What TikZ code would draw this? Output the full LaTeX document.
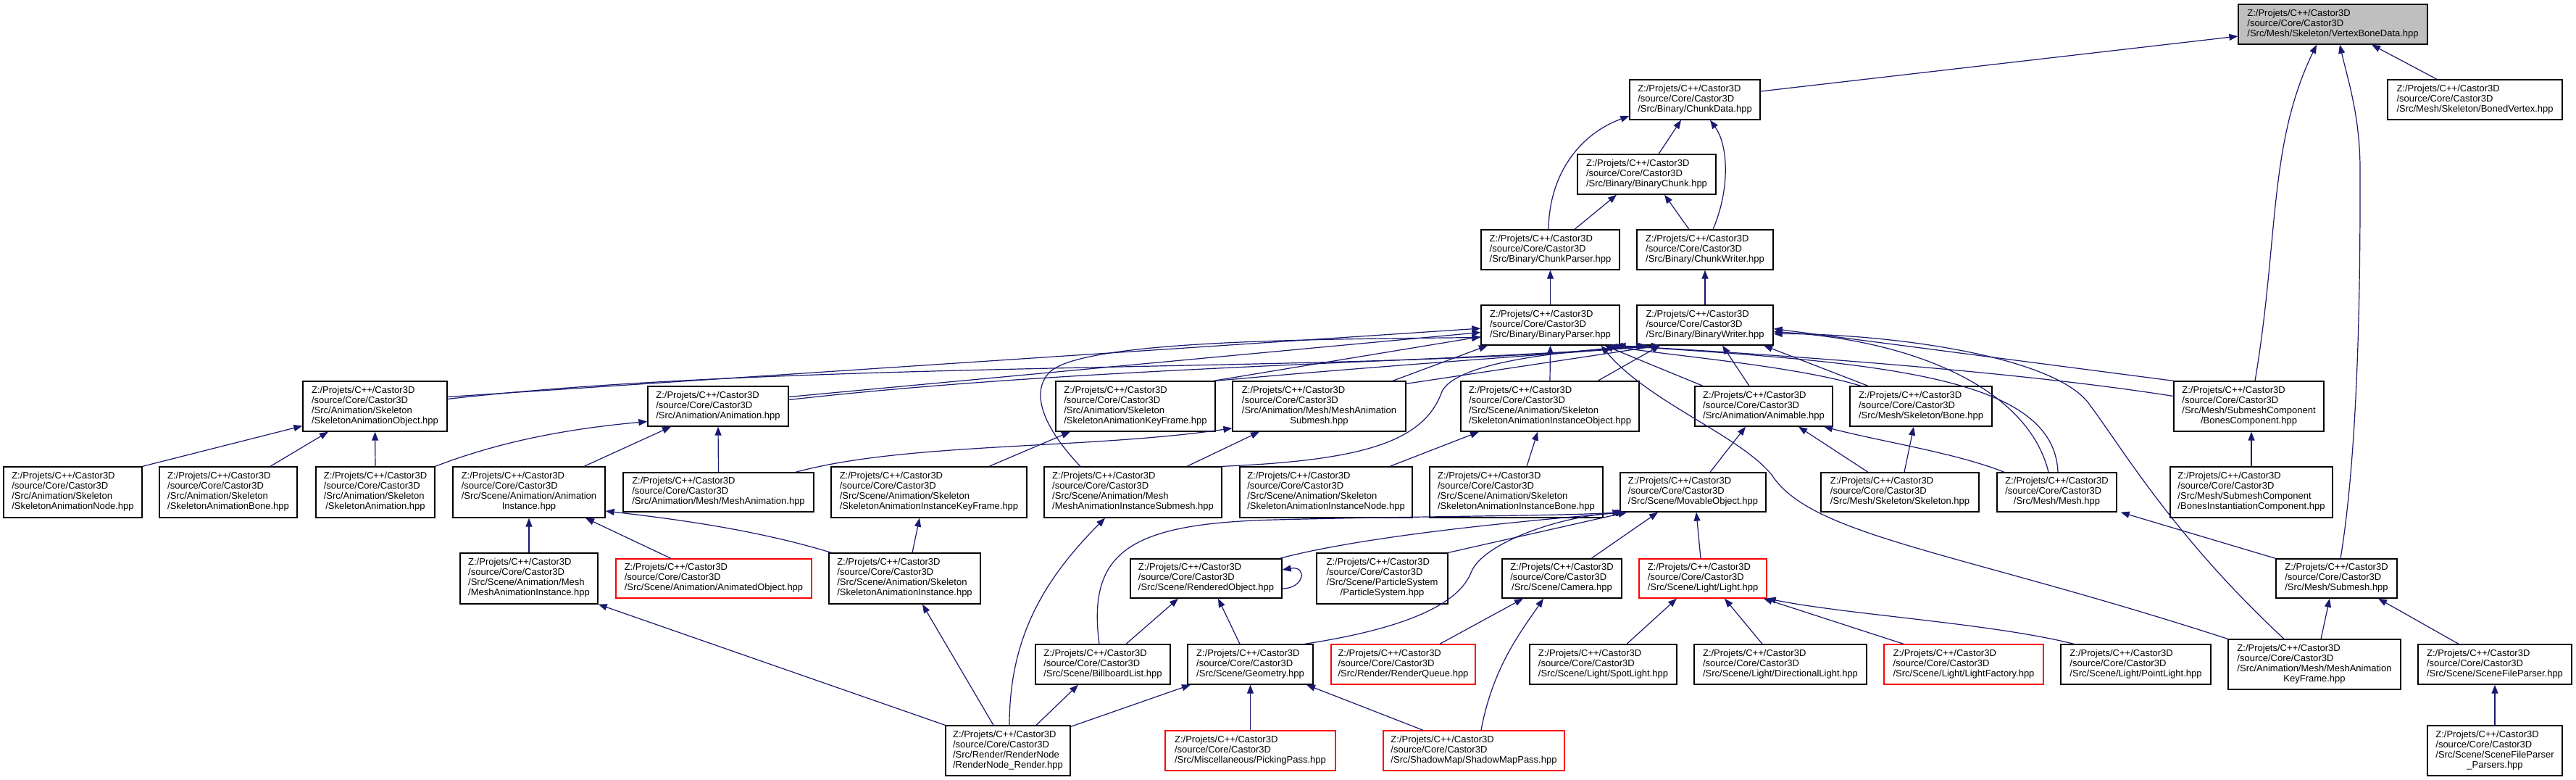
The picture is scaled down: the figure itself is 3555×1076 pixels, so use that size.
\documentclass[tikz,border=0pt]{standalone}
\usepackage{fontspec}
\setmainfont{Liberation Sans}
\usetikzlibrary{arrows.meta}
\definecolor{edgeblue}{HTML}{191970}
\definecolor{nodered}{HTML}{FF0000}
\definecolor{focusgray}{HTML}{BFBFBF}
\newcommand{\hdr}{Z:/Projets/C++/Castor3D\\/source/Core/Castor3D}
\newcommand{\lA}[1]{\begin{tabular}{@{}l@{}}\hdr\\\multicolumn{1}{@{}c@{}}{#1}\end{tabular}}
\newcommand{\lB}[2]{\begin{tabular}{@{}l@{}}\hdr\\#1\\\multicolumn{1}{@{}c@{}}{#2}\end{tabular}}
\newcommand{\gnode}[7][]{\node[gbox,#1,minimum width={#5-#3},minimum height={#6-#4}] (#2) at ({(#3+#5)/2},{(#4+#6)/2}) {#7};}
\tikzset{
  gbox/.style={draw=black, line width=1.3pt, fill=white, inner sep=0pt, text=black,
    font=\fontsize{13}{14}\selectfont},
  redbox/.style={draw=nodered},
  focusbox/.style={fill=focusgray},
  conn/.style={draw=edgeblue, line width=1.2pt, -{Triangle[length=12pt,width=9pt]}}
}
\begin{document}
\begin{tikzpicture}[x=1pt,y=-1pt]
\fill[white] (0,0) rectangle (3555,1076);
\useasboundingbox (0,0) rectangle (3555,1076);
% ---------- nodes ----------
\gnode[focusbox]{VBD}{3089}{6}{3350}{61}{\lA{/Src/Mesh/Skeleton/VertexBoneData.hpp}}
\gnode{BV}{3295}{110}{3536}{165}{\lA{/Src/Mesh/Skeleton/BonedVertex.hpp}}
\gnode{CD}{2249}{110}{2429}{165}{\lA{/Src/Binary/ChunkData.hpp}}
\gnode{BC}{2177}{213}{2368}{268}{\lA{/Src/Binary/BinaryChunk.hpp}}
\gnode{CP}{2044}{317}{2235}{372}{\lA{/Src/Binary/ChunkParser.hpp}}
\gnode{CW}{2259}{317}{2447}{372}{\lA{/Src/Binary/ChunkWriter.hpp}}
\gnode{BP}{2044}{421}{2235}{476}{\lA{/Src/Binary/BinaryParser.hpp}}
\gnode{BW}{2259}{421}{2447}{476}{\lA{/Src/Binary/BinaryWriter.hpp}}
\gnode{SAO}{418}{526}{617}{595}{\lB{/Src/Animation/Skeleton}{/SkeletonAnimationObject.hpp}}
\gnode{ANM}{894}{533}{1088}{588}{\lA{/Src/Animation/Animation.hpp}}
\gnode{SAKF}{1457}{526}{1677}{595}{\lB{/Src/Animation/Skeleton}{/SkeletonAnimationKeyFrame.hpp}}
\gnode{MAS}{1701}{526}{1940}{595}{\lB{/Src/Animation/Mesh/MeshAnimation}{Submesh.hpp}}
\gnode{SAIO}{2016}{526}{2262}{595}{\lB{/Src/Scene/Animation/Skeleton}{/SkeletonAnimationInstanceObject.hpp}}
\gnode{ABL}{2339}{533}{2529}{588}{\lA{/Src/Animation/Animable.hpp}}
\gnode{BONE}{2553}{533}{2749}{588}{\lA{/Src/Mesh/Skeleton/Bone.hpp}}
\gnode{BCMP}{3000}{526}{3207}{595}{\lB{/Src/Mesh/SubmeshComponent}{/BonesComponent.hpp}}
\gnode{SAN}{5}{644}{196}{714}{\lB{/Src/Animation/Skeleton}{/SkeletonAnimationNode.hpp}}
\gnode{SAB}{220}{644}{410}{714}{\lB{/Src/Animation/Skeleton}{/SkeletonAnimationBone.hpp}}
\gnode{SA}{436}{644}{600}{714}{\lB{/Src/Animation/Skeleton}{/SkeletonAnimation.hpp}}
\gnode{AI}{625}{644}{835}{714}{\lB{/Src/Scene/Animation/Animation}{Instance.hpp}}
\gnode{MA}{860}{652}{1123}{706}{\lA{/Src/Animation/Mesh/MeshAnimation.hpp}}
\gnode{SAIKF}{1147}{644}{1417}{714}{\lB{/Src/Scene/Animation/Skeleton}{/SkeletonAnimationInstanceKeyFrame.hpp}}
\gnode{MAIS}{1441}{644}{1686}{714}{\lB{/Src/Scene/Animation/Mesh}{/MeshAnimationInstanceSubmesh.hpp}}
\gnode{SAIN}{1711}{644}{1949}{714}{\lB{/Src/Scene/Animation/Skeleton}{/SkeletonAnimationInstanceNode.hpp}}
\gnode{SAIB}{1973}{644}{2212}{714}{\lB{/Src/Scene/Animation/Skeleton}{/SkeletonAnimationInstanceBone.hpp}}
\gnode{MO}{2236}{652}{2437}{706}{\lA{/Src/Scene/MovableObject.hpp}}
\gnode{SKL}{2513}{652}{2731}{706}{\lA{/Src/Mesh/Skeleton/Skeleton.hpp}}
\gnode{MESH}{2756}{652}{2921}{706}{\lA{/Src/Mesh/Mesh.hpp}}
\gnode{BIC}{2995}{644}{3219}{714}{\lB{/Src/Mesh/SubmeshComponent}{/BonesInstantiationComponent.hpp}}
\gnode{MAI}{635}{763}{825}{833}{\lB{/Src/Scene/Animation/Mesh}{/MeshAnimationInstance.hpp}}
\gnode[redbox]{AO}{850}{771}{1120}{825}{\lA{/Src/Scene/Animation/AnimatedObject.hpp}}
\gnode{SAI}{1144}{763}{1353}{833}{\lB{/Src/Scene/Animation/Skeleton}{/SkeletonAnimationInstance.hpp}}
\gnode{RO}{1560}{771}{1769}{825}{\lA{/Src/Scene/RenderedObject.hpp}}
\gnode{PS}{1817}{763}{1998}{833}{\lB{/Src/Scene/ParticleSystem}{/ParticleSystem.hpp}}
\gnode{CAM}{2073}{771}{2238}{825}{\lA{/Src/Scene/Camera.hpp}}
\gnode[redbox]{LIGHT}{2262}{771}{2438}{825}{\lA{/Src/Scene/Light/Light.hpp}}
\gnode{SUB}{3141}{771}{3308}{825}{\lA{/Src/Mesh/Submesh.hpp}}
\gnode{BL}{1429}{889}{1615}{944}{\lA{/Src/Scene/BillboardList.hpp}}
\gnode{GEO}{1639}{889}{1812}{944}{\lA{/Src/Scene/Geometry.hpp}}
\gnode[redbox]{RQ}{1837}{889}{2036}{944}{\lA{/Src/Render/RenderQueue.hpp}}
\gnode{SPOT}{2111}{889}{2314}{944}{\lA{/Src/Scene/Light/SpotLight.hpp}}
\gnode{DIR}{2338}{889}{2576}{944}{\lA{/Src/Scene/Light/DirectionalLight.hpp}}
\gnode[redbox]{LF}{2600}{889}{2820}{944}{\lA{/Src/Scene/Light/LightFactory.hpp}}
\gnode{PL}{2844}{889}{3051}{944}{\lA{/Src/Scene/Light/PointLight.hpp}}
\gnode{MAKF}{3075}{882}{3313}{951}{\lB{/Src/Animation/Mesh/MeshAnimation}{KeyFrame.hpp}}
\gnode{SFP}{3337}{889}{3549}{944}{\lA{/Src/Scene/SceneFileParser.hpp}}
\gnode{RNR}{1305}{1001}{1477}{1070}{\lB{/Src/Render/RenderNode}{/RenderNode\_Render.hpp}}
\gnode[redbox]{PP}{1608}{1008}{1843}{1063}{\lA{/Src/Miscellaneous/PickingPass.hpp}}
\gnode[redbox]{SMP}{1909}{1008}{2159}{1063}{\lA{/Src/ShadowMap/ShadowMapPass.hpp}}
\gnode{SFPP}{3350}{1001}{3536}{1070}{\lB{/Src/Scene/SceneFileParser}{\_Parsers.hpp}}
% ---------- top part ----------
\draw[conn] ([yshift=11.5pt]CD.east) -- ([yshift=-16.5pt]VBD.west);
\draw[conn] ([xshift=-52.5pt]BV.north) -- ([xshift=53.5pt]VBD.south);
\draw[conn] ([xshift=8.5pt]BCMP.north) .. controls (3145,330) and (3130,200) .. ([xshift=-22.5pt]VBD.south);
\draw[conn] ([xshift=5.5pt]SUB.north) .. controls (3258,600) and (3257,330) .. (3257,234) .. controls (3257,160) and (3240,110) .. ([xshift=9.5pt]VBD.south);
\draw[conn] ([xshift=-2.5pt]CP.north) .. controls (2138,240) and (2180,185) .. ([yshift=-22.5pt]CD.west);
\draw[conn] ([xshift=16.5pt]BC.north) -- ([xshift=-19pt]CD.south);
\draw[conn] ([xshift=11pt]CW.north) .. controls (2388,260) and (2385,200) .. ([xshift=21pt]CD.south);
\draw[conn] ([xshift=33.5pt]CP.north) -- ([xshift=-41.5pt]BC.south);
\draw[conn] ([xshift=-22pt]CW.north) -- ([xshift=24.5pt]BC.south);
\draw[conn] (BP.north) -- (CP.south);
\draw[conn] (BW.north) -- (CW.south);
% ---------- into BinaryParser / BinaryWriter ----------
\draw[conn] ([yshift=13pt]SAO.east) -- ([yshift=-4.5pt]BP.west);
\draw[conn] ([yshift=10pt]SAO.east) .. controls (1100,495) and (1900,515) .. ([xshift=-83pt]BW.south);
\draw[conn] ([yshift=13pt]ANM.east) -- ([yshift=-10pt]BP.west);
\draw[conn] ([yshift=9pt]ANM.east) .. controls (1500,505) and (2000,500) .. ([xshift=-62pt]BW.south);
\draw[conn] ([xshift=-3pt]SAKF.north east) -- ([yshift=-16pt]BP.west);
\draw[conn] (SAKF.north east) .. controls (1900,505) and (2100,492) .. ([xshift=-62pt]BW.south);
\draw[conn] ([xshift=101.5pt]MAS.north) -- ([xshift=-86.5pt]BP.south);
\draw[conn] ([yshift=-4pt]MAS.north east) -- ([xshift=-62pt]BW.south);
\draw[conn] (SAIO.north) -- (BP.south);
\draw[conn] ([xshift=66pt]SAIO.north) -- ([xshift=-62pt]BW.south);
\draw[conn] ([xshift=-84pt]ABL.north) -- ([xshift=75pt]BP.south);
\draw[conn] ([xshift=-20pt]ABL.north) -- ([xshift=24pt]BW.south);
\draw[conn] ([xshift=-83pt]BONE.north) .. controls (2480,505) and (2300,490) .. ([xshift=80pt]BP.south);
\draw[conn] ([xshift=-73pt]BONE.north) -- ([xshift=81pt]BW.south);
\draw[conn] ([xshift=-11.5pt]MESH.north) .. controls (2800,540) and (2650,470) .. ([yshift=-9pt]BW.east);
\draw[conn] ([xshift=1.5pt]MESH.north) .. controls (2835,520) and (2600,500) .. ([xshift=88pt]BP.south);
\draw[conn] (BCMP.north west) -- ([yshift=-5pt]BW.east);
\draw[conn] ([yshift=14pt]BCMP.west) .. controls (2800,515) and (2500,492) .. ([xshift=92pt]BP.south);
\draw[conn] (MAKF.north west) .. controls (2700,760) and (2500,740) .. (2445,655) .. controls (2400,600) and (2275,555) .. ([xshift=70pt]BP.south);
\draw[conn] ([xshift=-42pt]MAKF.north) .. controls (3000,740) and (2930,620) .. (2885,560) .. controls (2840,490) and (2600,460) .. ([yshift=-12pt]BW.east);
\draw[conn] ([xshift=-72.5pt]MAIS.north) .. controls (1440,590) and (1420,540) .. (1450,512) .. controls (1500,470) and (1800,468) .. ([yshift=-17pt]BP.west);
\draw[conn] (MAIS.north east) .. controls (1880,635) and (1965,610) .. (1990,540) .. controls (2010,500) and (2150,485) .. ([xshift=-80pt]BW.south);
% ---------- rank 6 -> rank 5 ----------
\draw[conn] (SAN.north east) -- ([yshift=-27pt]SAO.west);
\draw[conn] ([xshift=58pt]SAB.north) -- ([xshift=-64.5pt]SAO.south);
\draw[conn] (SA.north) -- (SAO.south);
\draw[conn] (SA.north east) .. controls (700,605) and (800,590) .. ([yshift=-21pt]ANM.west);
\draw[conn] ([xshift=76pt]AI.north) -- ([xshift=-65pt]ANM.south);
\draw[conn] (MA.north) -- (ANM.south);
\draw[conn] ([xshift=106.5pt]MA.north) .. controls (1250,610) and (1500,620) .. ([yshift=5pt]MAS.south west);
\draw[conn] ([xshift=83pt]SAIKF.north) -- ([xshift=-90pt]SAKF.south);
\draw[conn] ([xshift=74.5pt]MAIS.north) -- ([xshift=-82.5pt]MAS.south);
\draw[conn] ([xshift=88pt]SAIN.north) -- ([xshift=-98pt]SAIO.south);
\draw[conn] ([xshift=14.5pt]SAIB.north) -- ([xshift=-17pt]SAIO.south);
\draw[conn] ([xshift=23.5pt]MO.north) -- ([xshift=-25pt]ABL.south);
\draw[conn] ([xshift=-44pt]SKL.north) -- ([xshift=48pt]ABL.south);
\draw[conn] ([xshift=6pt]SKL.north) -- ([xshift=-10pt]BONE.south);
\draw[conn] ([xshift=-72.5pt]MESH.north) .. controls (2700,625) and (2600,610) .. ([xshift=83pt]ABL.south);
\draw[conn] (BIC.north) -- ([xshift=3.5pt]BCMP.south);
% ---------- rank 7 -> rank 6 ----------
\draw[conn] (MAI.north) -- (AI.south);
\draw[conn] ([xshift=-59pt]AO.north) -- ([xshift=78pt]AI.south);
\draw[conn] ([xshift=4pt]SAI.north west) .. controls (1050,733) and (950,718) .. ([yshift=-26pt]AI.east);
\draw[conn] ([xshift=10.5pt]SAI.north) -- ([xshift=-13pt]SAIKF.south);
\draw[conn] ([xshift=-4pt]RO.north east) .. controls (1900,735) and (2150,715) .. ([xshift=6pt]MO.south west);
\draw[conn] ([xshift=-5pt]BL.north) .. controls (1500,760) and (1560,722) .. (1760,717) .. controls (1950,712) and (2150,712) .. ([xshift=2pt]MO.south west);
\draw[conn] ([xshift=75pt]GEO.north) .. controls (1920,870) and (2010,840) .. (2030,790) .. controls (2045,750) and (2150,712) .. ([xshift=8pt]MO.south west);
\draw[conn] (PS.north east) -- ([xshift=10pt]MO.south west);
\draw[conn] ([xshift=40.5pt]CAM.north) -- ([xshift=-48.5pt]MO.south);
\draw[conn] ([xshift=-3pt]LIGHT.north) -- ([xshift=4.5pt]MO.south);
\draw[conn] ([yshift=-14pt]RO.east) .. controls (1800,812) and (1805,780) .. ([yshift=12pt]RO.east);
\draw[conn] (SUB.north west) -- ([xshift=5pt]MESH.south east);
% ---------- rank 8 -> rank 7 ----------
\draw[conn] ([xshift=32pt]BL.north) -- ([xshift=-38.5pt]RO.south);
\draw[conn] ([xshift=-14.5pt]GEO.north) -- ([xshift=16.5pt]RO.south);
\draw[conn] ([xshift=50.5pt]RQ.north) -- ([xshift=-53.5pt]CAM.south);
\draw[conn] ([xshift=32.5pt]SPOT.north) -- ([xshift=-36pt]LIGHT.south);
\draw[conn] ([xshift=-25pt]DIR.north) -- ([xshift=30pt]LIGHT.south);
\draw[conn] ([xshift=-83pt]LF.north) -- ([xshift=-5pt]LIGHT.south east);
\draw[conn] ([xshift=-85.5pt]PL.north) .. controls (2750,860) and (2550,848) .. (LIGHT.south east);
\draw[conn] ([xshift=9pt]MAKF.north) -- ([xshift=-9.5pt]SUB.south);
\draw[conn] ([xshift=-50pt]SFP.north) -- ([xshift=57.5pt]SUB.south);
% ---------- rank 9 ----------
\draw[conn] (RNR.north west) -- (MAI.south east);
\draw[conn] ([xshift=-20pt]RNR.north) -- ([xshift=24.5pt]SAI.south);
\draw[conn] ([xshift=2pt]RNR.north) .. controls (1393,880) and (1440,800) .. ([xshift=-38.5pt]MAIS.south);
\draw[conn] ([xshift=39pt]RNR.north) -- ([xshift=-34pt]BL.south);
\draw[conn] ([yshift=-2pt]RNR.north east) -- ([xshift=-82.5pt]GEO.south);
\draw[conn] (PP.north) -- (GEO.south);
\draw[conn] ([xshift=-70pt]SMP.north) -- ([xshift=77.5pt]GEO.south);
\draw[conn] ([xshift=10pt]SMP.north) .. controls (2060,920) and (2100,870) .. ([xshift=-25.5pt]CAM.south);
\draw[conn] (SFPP.north) -- (SFP.south);
\end{tikzpicture}
\end{document}
